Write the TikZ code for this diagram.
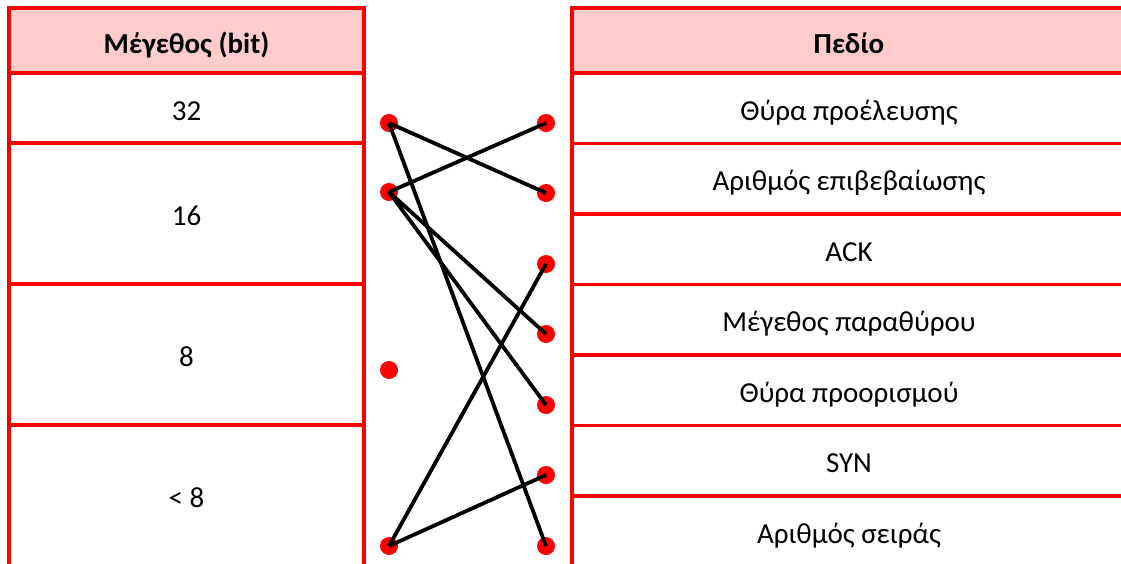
\documentclass[tikz,border=0pt]{standalone}
\usepackage{fontspec}
\setmainfont{Carlito}
\definecolor{hdr}{HTML}{FFCCCC}
\definecolor{bred}{HTML}{FF0000}
\begin{document}
\begin{tikzpicture}[x=1pt,y=-1pt,
  cell/.style={draw=bred,line width=3.5pt,rectangle,inner sep=0pt,text height=24pt,text depth=0pt,font=\fontsize{29}{34}\selectfont},
  hcell/.style={cell,fill=hdr,text height=26pt,text depth=0pt,font=\fontsize{29}{34}\selectfont\bfseries},
  dot/.style={circle,fill=bred,minimum size=18pt,inner sep=0pt},
  link/.style={black,line width=3.8pt}]
\useasboundingbox (0,0) rectangle (1121,563);
\clip (0,0) rectangle (1121,563);
% left table
\node[hcell,minimum width=355pt,minimum height=65pt] (lh) at (186.5,40.5) {Μέγεθος (bit)};
\node[cell,minimum width=355pt,minimum height=70pt] (c32) at (186.5,108) {32};
\node[cell,minimum width=355pt,minimum height=141pt] (c16) at (186.5,213.5) {16};
\node[cell,minimum width=355pt,minimum height=141pt] (c8) at (186.5,354.5) {8};
\node[cell,minimum width=355pt,minimum height=141pt] (clt) at (186.5,495.5) {< 8};
% right table
\node[hcell,minimum width=554pt,minimum height=65pt] (rh) at (849,40.5) {Πεδίο};
\node[cell,minimum width=554pt,minimum height=70.5pt] (f1) at (849,108) {Θύρα προέλευσης};
\node[cell,minimum width=554pt,minimum height=70.5pt] (f2) at (849,178.5) {Αριθμός επιβεβαίωσης};
\node[cell,minimum width=554pt,minimum height=70.5pt] (f3) at (849,249) {ACK};
\node[cell,minimum width=554pt,minimum height=70.5pt] (f4) at (849,319.5) {Μέγεθος παραθύρου};
\node[cell,minimum width=554pt,minimum height=70.5pt] (f5) at (849,390) {Θύρα προορισμού};
\node[cell,minimum width=554pt,minimum height=70.5pt] (f6) at (849,460.5) {SYN};
\node[cell,minimum width=554pt,minimum height=70.5pt] (f7) at (849,531) {Αριθμός σειράς};
% dots
\node[dot] (l1) at (389,123) {};
\node[dot] (l2) at (389,192) {};
\node[dot] (l3) at (389,370) {};
\node[dot] (l4) at (389,546) {};
\node[dot] (r1) at (546,123) {};
\node[dot] (r2) at (546,193) {};
\node[dot] (r3) at (546,264) {};
\node[dot] (r4) at (546,334) {};
\node[dot] (r5) at (546,405) {};
\node[dot] (r6) at (546,475) {};
\node[dot] (r7) at (546,546) {};
% links
\draw[link] (l1.center) -- (r2.center);
\draw[link] (l1.center) -- (r7.center);
\draw[link] (l2.center) -- (r1.center);
\draw[link] (l2.center) -- (r4.center);
\draw[link] (l2.center) -- (r5.center);
\draw[link] (l4.center) -- (r3.center);
\draw[link] (l4.center) -- (r6.center);
\end{tikzpicture}
\end{document}
